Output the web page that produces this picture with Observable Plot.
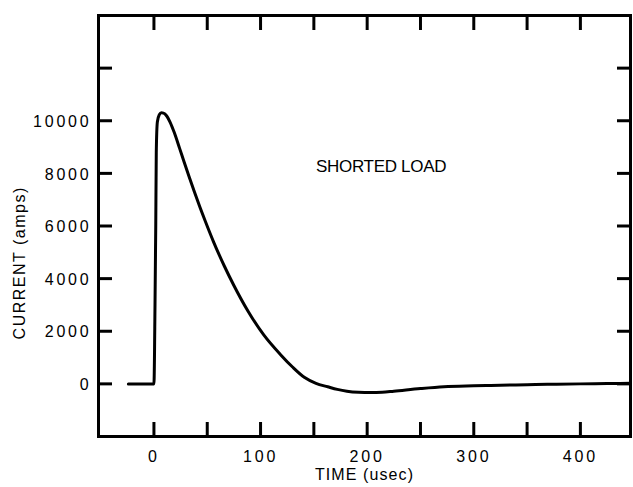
<!DOCTYPE html>
<html>
<head>
<meta charset="utf-8">
<script src="https://cdn.jsdelivr.net/npm/d3@7"></script>
<script src="https://cdn.jsdelivr.net/npm/@observablehq/plot@0.6"></script>
<style>
  html, body { margin: 0; padding: 0; background: #fff; }
  #chart svg { display: block; }
  g[aria-label="y-axis tick label"] text { letter-spacing: 2.8px; }
  g[aria-label="x-axis tick label"] text { letter-spacing: 2.8px; }
</style>
</head>
<body>
<div id="chart"></div>
<script>
// Time (usec) and current (amps)
const time = [-24, 0, 1, 1.7, 2.2, 3.2, 5, 7, 9, 12, 15, 19, 24, 28, 33, 38, 43, 48, 56, 66, 75, 88, 103, 119, 130, 141, 152, 163, 172, 181, 192, 203, 214, 225, 250, 272, 300, 316, 350, 369, 400, 425, 447];
const current = [0, 0, 3000, 6000, 8800, 9950, 10230, 10300, 10290, 10180, 9960, 9560, 8960, 8470, 7870, 7290, 6730, 6200, 5390, 4480, 3740, 2780, 1860, 1100, 640, 250, 20, -110, -210, -280, -320, -330, -320, -280, -180, -110, -75, -60, -30, -15, 0, 12, 25];

const xTicks = [0, 50, 100, 150, 200, 250, 300, 350, 400];
const xLabels = [0, 100, 200, 300, 400];
const yTicks = [0, 2000, 4000, 6000, 8000, 10000, 12000];
const yLabels = [0, 2000, 4000, 6000, 8000, 10000];
const xTitle = ["TIME (usec)"];
const yTitle = ["CURRENT (amps)"];
const note = ["SHORTED LOAD"];

const data = time.map((t, i) => ({t, i: current[i]}));
const font = "'Liberation Sans', Arial, Helvetica, sans-serif";

const chart = Plot.plot({
  width: 633,
  height: 487,
  marginLeft: 98,
  marginRight: 3,
  marginTop: 15,
  marginBottom: 51,
  style: {fontFamily: font, color: "#000", background: "#fff"},
  x: {domain: [-52, 447]},
  y: {domain: [-2000, 14000]},
  marks: [
    // inward tick marks on all four sides
    Plot.axisY(yTicks, {anchor: "left", tickSize: 14, dx: 14, strokeWidth: 3, tickFormat: () => "", label: null}),
    Plot.axisY(yTicks, {anchor: "right", tickSize: 14, dx: -14, strokeWidth: 3, tickFormat: () => "", label: null}),
    Plot.axisX(xTicks, {anchor: "bottom", tickSize: 14, dy: -14, strokeWidth: 3, tickFormat: () => "", label: null}),
    Plot.axisX(xTicks, {anchor: "top", tickSize: 14, dy: 14, strokeWidth: 3, tickFormat: () => "", label: null}),
    // tick labels
    Plot.axisY(yLabels, {anchor: "left", tickSize: 0, tickPadding: 7, dy: 1, fontSize: 16, label: null, tickFormat: d => String(d)}),
    Plot.axisX(xLabels, {anchor: "bottom", tickSize: 0, tickPadding: 14, fontSize: 16, label: null, tickFormat: d => String(d)}),
    Plot.frame({stroke: "#000", strokeWidth: 3}),
    Plot.line(data, {x: "t", y: "i", stroke: "#000", strokeWidth: 3, curve: "monotone-x"}),
    Plot.text(note, {x: 152, y: 8260, text: d => d, textAnchor: "start", lineAnchor: "middle", fontSize: 17, fill: "#000"}),
    Plot.text(xTitle, {frameAnchor: "bottom", dy: 38, text: d => d, textAnchor: "middle", lineAnchor: "middle", fontSize: 16, fill: "#000"}),
    Plot.text(yTitle, {y: 4600, frameAnchor: "left", dx: -79, rotate: -90, text: d => d, textAnchor: "middle", lineAnchor: "middle", fontSize: 16, fill: "#000"})
  ]
});
const spacing = {"TIME (usec)": "1.1px", "CURRENT (amps)": "1.5px", "SHORTED LOAD": "-0.3px"};
d3.select(chart).selectAll("text").each(function () {
  const s = spacing[this.textContent];
  if (s) this.style.letterSpacing = s;
});
document.getElementById("chart").appendChild(chart);
</script>
</body>
</html>
